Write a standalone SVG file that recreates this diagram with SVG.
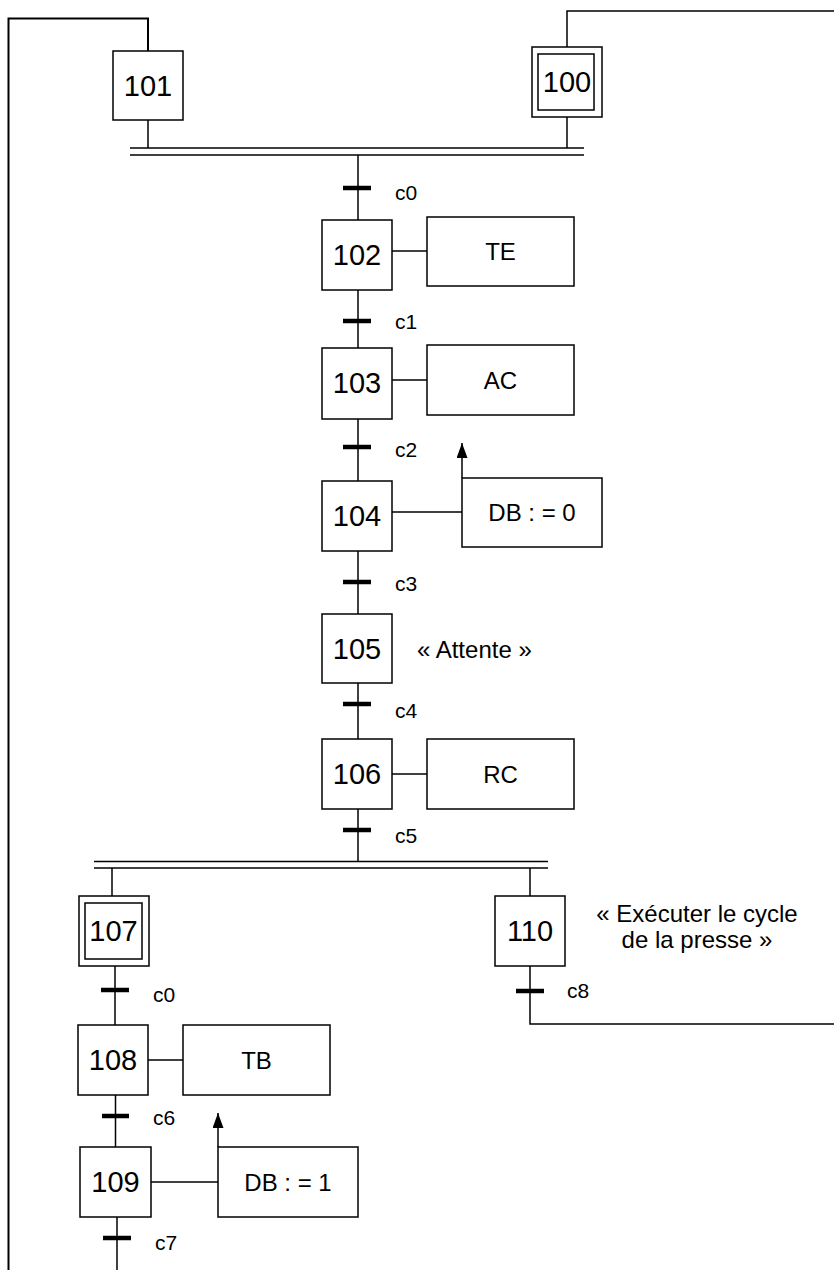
<svg xmlns="http://www.w3.org/2000/svg" width="834" height="1270" viewBox="0 0 834 1270">
<style>
.ln{stroke:#000;stroke-width:1.5;fill:none}
.bx{stroke:#000;stroke-width:1.5;fill:#fff}
.tr{stroke:#000;stroke-width:4.5}
.sn{font-family:"Liberation Sans",Arial,sans-serif;font-size:29px;text-anchor:middle;fill:#000}
.ac{font-family:"Liberation Sans",Arial,sans-serif;font-size:24px;text-anchor:middle;fill:#000}
.cm{font-family:"Liberation Sans",Arial,sans-serif;font-size:24px;fill:#000}
.cl{font-family:"Liberation Sans",Arial,sans-serif;font-size:21px;fill:#000}
</style>
<defs>
<marker id="ah" viewBox="0 0 15 11" refX="15" refY="5.5" markerWidth="15" markerHeight="11" markerUnits="userSpaceOnUse" orient="auto">
<path d="M0,0 L15,5.5 L0,11 Z" fill="#000"/>
</marker>
</defs>
<g id="connectors">
<path class="ln" d="M8.5,1270 V18.5 H148 V51" style="stroke-width:2"/>
<path class="ln" d="M148,120 V148"/>
<path class="ln" d="M834,11 H567 V47"/>
<path class="ln" d="M567,117 V148"/>
<line class="ln" x1="130" y1="148" x2="584" y2="148"/>
<line class="ln" x1="130" y1="155" x2="584" y2="155"/>
<line class="ln" x1="358" y1="155" x2="358" y2="220"/>
<line class="ln" x1="358" y1="290" x2="358" y2="348"/>
<line class="ln" x1="358" y1="419" x2="358" y2="481"/>
<line class="ln" x1="358" y1="551" x2="358" y2="614"/>
<line class="ln" x1="358" y1="683" x2="358" y2="739"/>
<line class="ln" x1="358" y1="809" x2="358" y2="862"/>
<line class="ln" x1="392" y1="251" x2="427" y2="251"/>
<line class="ln" x1="392" y1="380" x2="427" y2="380"/>
<line class="ln" x1="392" y1="512" x2="462" y2="512"/>
<line class="ln" x1="392" y1="774" x2="427" y2="774"/>
<line class="ln" x1="148" y1="1060" x2="183" y2="1060"/>
<line class="ln" x1="151" y1="1182" x2="218" y2="1182"/>
<line class="ln" x1="462" y1="478" x2="462" y2="443" marker-end="url(#ah)"/>
<line class="ln" x1="218" y1="1147" x2="218" y2="1113" marker-end="url(#ah)"/>
<line class="ln" x1="94" y1="861.5" x2="548" y2="861.5"/>
<line class="ln" x1="94" y1="868" x2="548" y2="868"/>
<line class="ln" x1="112" y1="868" x2="112" y2="896"/>
<line class="ln" x1="115" y1="966" x2="115" y2="1025"/>
<line class="ln" x1="115.5" y1="1095" x2="115.5" y2="1147"/>
<line class="ln" x1="117" y1="1217" x2="117" y2="1270"/>
<line class="ln" x1="530" y1="868" x2="530" y2="896"/>
<path class="ln" d="M530,966 V1024 H834"/>
<line class="tr" x1="343" y1="188" x2="371" y2="188"/>
<line class="tr" x1="343" y1="321" x2="371" y2="321"/>
<line class="tr" x1="343" y1="447" x2="371" y2="447"/>
<line class="tr" x1="343" y1="582" x2="371" y2="582"/>
<line class="tr" x1="343" y1="704" x2="371" y2="704"/>
<line class="tr" x1="343" y1="830" x2="371" y2="830"/>
<line class="tr" x1="101" y1="990" x2="129" y2="990"/>
<line class="tr" x1="102" y1="1116" x2="129" y2="1116"/>
<line class="tr" x1="103" y1="1238" x2="131" y2="1238"/>
<line class="tr" x1="516" y1="991" x2="544" y2="991"/>
<text class="cl" x="395" y="200">c0</text>
<text class="cl" x="395" y="329">c1</text>
<text class="cl" x="395" y="457">c2</text>
<text class="cl" x="395" y="591">c3</text>
<text class="cl" x="395" y="718">c4</text>
<text class="cl" x="395" y="843">c5</text>
<text class="cl" x="153" y="1002">c0</text>
<text class="cl" x="153" y="1125">c6</text>
<text class="cl" x="155" y="1250">c7</text>
<text class="cl" x="567" y="998">c8</text>
</g>
<g id="step101"><rect class="bx" x="113" y="51" width="70" height="69"/><text class="sn" x="148" y="96">101</text></g>
<g id="step100"><rect class="bx" x="532" y="47" width="70" height="70"/><rect class="bx" x="538" y="54" width="56" height="56"/><text class="sn" x="567" y="92">100</text></g>
<g id="step102"><rect class="bx" x="322" y="220" width="70" height="70"/><text class="sn" x="357" y="265">102</text></g>
<g id="action102"><rect class="bx" x="427" y="217" width="147" height="69"/><text class="ac" x="500.5" y="260">TE</text></g>
<g id="step103"><rect class="bx" x="322" y="348" width="70" height="71"/><text class="sn" x="357" y="393">103</text></g>
<g id="action103"><rect class="bx" x="427" y="345" width="147" height="70"/><text class="ac" x="500.5" y="389">AC</text></g>
<g id="step104"><rect class="bx" x="322" y="481" width="70" height="70"/><text class="sn" x="357" y="526">104</text></g>
<g id="action104"><rect class="bx" x="462" y="478" width="140" height="69"/><text class="ac" x="532" y="521">DB : = 0</text></g>
<g id="step105"><rect class="bx" x="322" y="614" width="70" height="69"/><text class="sn" x="357" y="659">105</text></g>
<g id="comment105"><text class="cm" x="417" y="658">« Attente »</text></g>
<g id="step106"><rect class="bx" x="322" y="739" width="70" height="70"/><text class="sn" x="357" y="784">106</text></g>
<g id="action106"><rect class="bx" x="427" y="739" width="147" height="70"/><text class="ac" x="500.5" y="783">RC</text></g>
<g id="step107"><rect class="bx" x="79" y="896" width="70" height="70"/><rect class="bx" x="85" y="903" width="57" height="56"/><text class="sn" x="113.5" y="941">107</text></g>
<g id="step110"><rect class="bx" x="495" y="896" width="70" height="70"/><text class="sn" x="530" y="941">110</text></g>
<g id="comment110"><text class="cm" text-anchor="middle" x="697" y="922">« Exécuter le cycle</text><text class="cm" text-anchor="middle" x="697" y="948">de la presse »</text></g>
<g id="step108"><rect class="bx" x="78" y="1025" width="70" height="70"/><text class="sn" x="113" y="1070">108</text></g>
<g id="action108"><rect class="bx" x="183" y="1025" width="147" height="70"/><text class="ac" x="256.5" y="1069">TB</text></g>
<g id="step109"><rect class="bx" x="80" y="1147" width="71" height="70"/><text class="sn" x="115.5" y="1192">109</text></g>
<g id="action109"><rect class="bx" x="218" y="1147" width="140" height="70"/><text class="ac" x="288" y="1191">DB : = 1</text></g>
</svg>
